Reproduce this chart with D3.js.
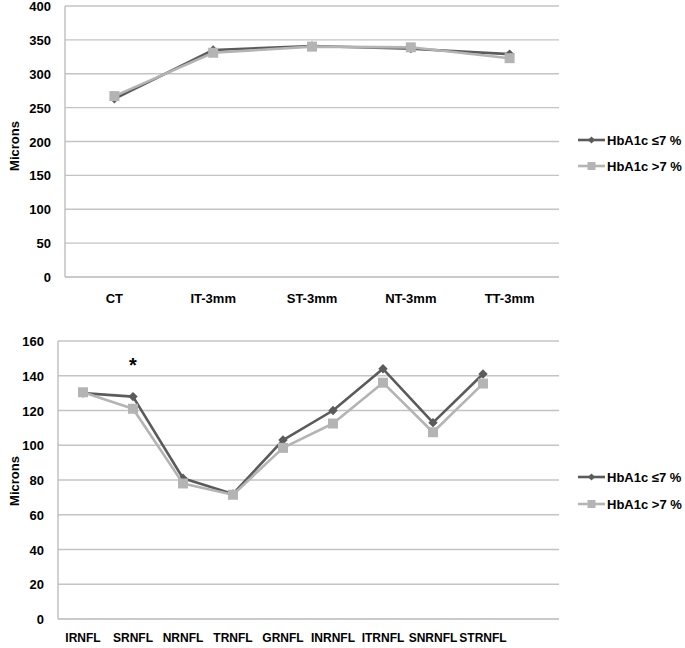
<!DOCTYPE html>
<html>
<head>
<meta charset="utf-8">
<script src="https://cdn.jsdelivr.net/npm/d3@7"></script>
<style>
  html, body { margin: 0; padding: 0; background: #ffffff; }
  svg { display: block; }
  text { font-family: "Liberation Sans", Arial, sans-serif; font-weight: bold; fill: #000; }
</style>
</head>
<body>
<svg id="chart" width="685" height="648"></svg>
<script>
// ---- Data ----
const seriesNames = ["HbA1c \u22647 %", "HbA1c >7 %"];

const topCategories = ["CT", "IT-3mm", "ST-3mm", "NT-3mm", "TT-3mm"];
const topLow = [263, 335, 341, 337, 329];     // HbA1c <=7 %
const topHigh = [267, 331, 340, 339, 323];    // HbA1c >7 %
const topTicks = [0, 50, 100, 150, 200, 250, 300, 350, 400];

const botCategories = ["IRNFL", "SRNFL", "NRNFL", "TRNFL", "GRNFL", "INRNFL", "ITRNFL", "SNRNFL", "STRNFL"];
const botLow = [130, 128, 81, 72, 103, 120, 144, 113, 141];
const botHigh = [130.5, 121, 78, 71.5, 98.5, 112.5, 136, 107.5, 135.5];
const botTicks = [0, 20, 40, 60, 80, 100, 120, 140, 160];
const significant = ["SRNFL"];

const colors = ["#5b5b5b", "#b4b4b4"];
const svg = d3.select("#chart");

function drawPanel(cfg) {
  const g = svg.append("g");
  const x = d3.scaleBand().domain(cfg.categories).range(cfg.xRange).paddingInner(0).paddingOuter(0);
  const y = d3.scaleLinear().domain([0, cfg.yMax]).range([cfg.yBottom, cfg.yTop]);

  // gridlines
  g.append("g").selectAll("line").data(cfg.ticks.filter(t => t > 0)).join("line")
    .attr("x1", cfg.plotLeft).attr("x2", cfg.plotRight)
    .attr("y1", d => y(d)).attr("y2", d => y(d))
    .attr("stroke", "#c4c4c4").attr("stroke-width", 1.3);

  // y axis (labels only, no ticks)
  const yAxis = d3.axisLeft(y).tickValues(cfg.ticks).tickSize(0).tickPadding(0).tickFormat(d3.format("d"));
  const ya = g.append("g").attr("transform", `translate(${cfg.tickRight},0)`).call(yAxis);
  ya.select(".domain").remove();
  ya.selectAll("text").style("font-size", "13px").style("font-family", '"Liberation Sans", Arial, sans-serif')
    .style("font-weight", "bold").attr("fill", "#000").attr("dy", "0.35em");

  // axis lines
  g.append("line").attr("x1", cfg.plotLeft).attr("x2", cfg.plotLeft)
    .attr("y1", cfg.yTop).attr("y2", cfg.yBottom).attr("stroke", "#b8b8b8").attr("stroke-width", 1.3);
  g.append("line").attr("x1", cfg.plotLeft).attr("x2", cfg.plotRight)
    .attr("y1", cfg.yBottom).attr("y2", cfg.yBottom).attr("stroke", "#b8b8b8").attr("stroke-width", 1.3);

  // x axis labels
  const xAxis = d3.axisBottom(x).tickSize(0).tickPadding(0);
  const xa = g.append("g").attr("transform", `translate(0,${cfg.yBottom + cfg.xLabelOffset})`).call(xAxis);
  xa.select(".domain").remove();
  xa.selectAll("text").style("font-size", cfg.xFont + "px").style("font-family", '"Liberation Sans", Arial, sans-serif')
    .style("font-weight", "bold").attr("fill", "#000").attr("dy", "0.35em").attr("y", 0);

  // y title
  g.append("text").attr("transform", `translate(${cfg.titleX},${cfg.titleY}) rotate(-90)`)
    .attr("text-anchor", "middle").attr("dy", "0.35em").style("font-size", "13px").text("Microns");

  const cx = d => x(d) + x.bandwidth() / 2;
  const line = d3.line().x(d => cx(d.c)).y(d => y(d.v));
  const seriesData = [cfg.low, cfg.high].map(arr => arr.map((v, i) => ({ c: cfg.categories[i], v })));

  seriesData.forEach((data, si) => {
    g.append("path").datum(data).attr("d", line).attr("fill", "none")
      .attr("stroke", colors[si]).attr("stroke-width", 2.6).attr("stroke-linejoin", "round");
    const sym = si === 0 ? d3.symbol(d3.symbolSquare, 44) : d3.symbol(d3.symbolSquare, 100);
    g.append("g").selectAll("path").data(data).join("path")
      .attr("d", sym)
      .attr("transform", d => `translate(${cx(d.c)},${y(d.v)})` + (si === 0 ? " rotate(45)" : ""))
      .attr("fill", colors[si]);
  });

  // significance markers
  g.append("g").selectAll("text").data(cfg.sig || []).join("text")
    .attr("x", d => cx(d)).attr("y", cfg.sigY).attr("text-anchor", "middle").attr("dy", "0.35em")
    .style("font-size", "20px").text("*");

  // legend
  const lg = g.append("g");
  seriesNames.forEach((name, si) => {
    const ly = cfg.legendY[si];
    lg.append("line").attr("x1", 578).attr("x2", 605).attr("y1", ly).attr("y2", ly)
      .attr("stroke", colors[si]).attr("stroke-width", 2.6);
    const sym = si === 0 ? d3.symbol(d3.symbolSquare, 26) : d3.symbol(d3.symbolSquare, 64);
    lg.append("path").attr("d", sym)
      .attr("transform", `translate(591.5,${ly})` + (si === 0 ? " rotate(45)" : ""))
      .attr("fill", colors[si]);
    lg.append("text").attr("x", 607).attr("y", ly).attr("dy", "0.35em")
      .style("font-size", "13px").text(name);
  });
}

drawPanel({
  categories: topCategories, low: topLow, high: topHigh, ticks: topTicks, yMax: 400,
  xRange: [65, 559], plotLeft: 65, plotRight: 559, yTop: 6, yBottom: 277,
  tickRight: 51, xLabelOffset: 21, xFont: 13, titleX: 14, titleY: 146,
  legendY: [140, 166]
});

drawPanel({
  categories: botCategories, low: botLow, high: botHigh, ticks: botTicks, yMax: 160,
  xRange: [58, 508], plotLeft: 58, plotRight: 559, yTop: 341, yBottom: 619,
  tickRight: 44, xLabelOffset: 19, xFont: 12, titleX: 14, titleY: 481,
  legendY: [477, 504], sig: significant, sigY: 365
});
</script>
</body>
</html>
